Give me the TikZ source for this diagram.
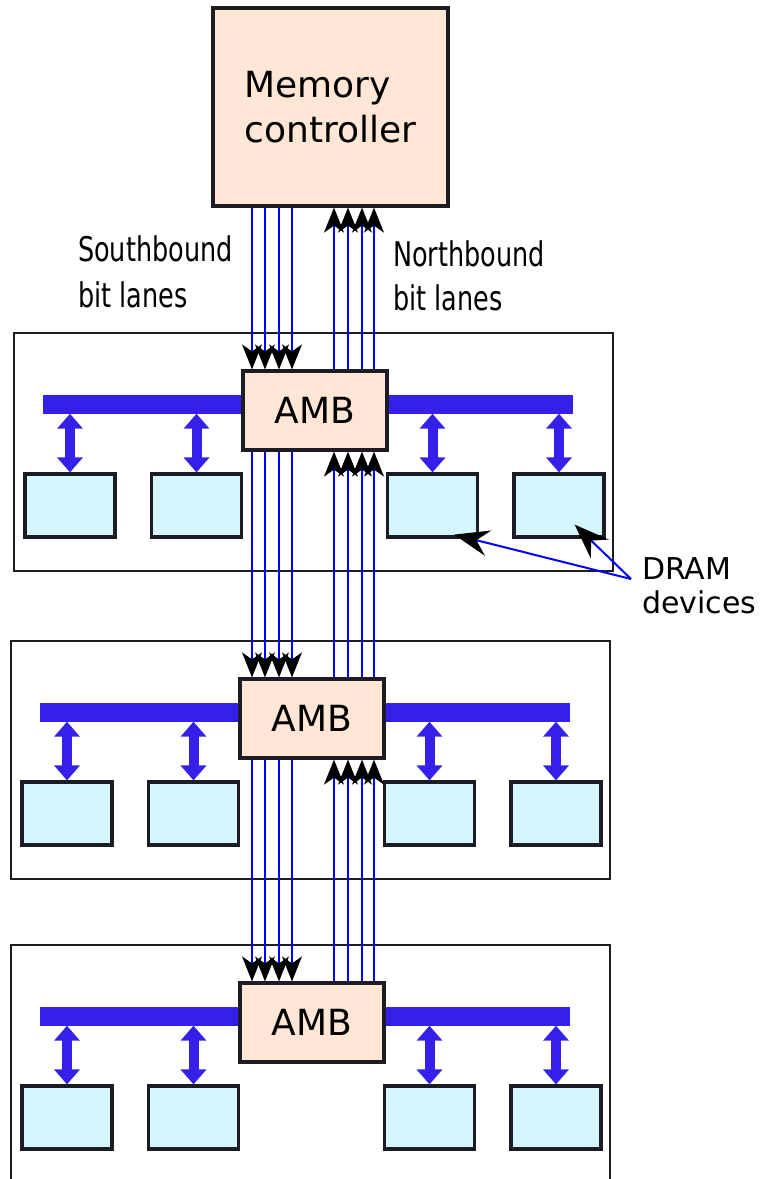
\documentclass[tikz,border=0pt]{standalone}
\usepackage{fontspec}
\setmainfont{DejaVu Sans}
\newfontfamily\narrowfont{DejaVu Sans}[FakeStretch=0.75]
\usetikzlibrary{positioning,arrows.meta,calc}
\definecolor{peach}{HTML}{FFE6D5}
\definecolor{chipblue}{HTML}{D5F6FF}
\definecolor{busblue}{HTML}{3420E8}
\definecolor{edge}{HTML}{1C1C24}

\begin{document}
\begin{tikzpicture}[x=1pt, y=-1pt,
    ctrl/.style={draw=edge, line width=3.2pt, fill=peach, inner sep=0pt},
    dram/.style={draw=edge, line width=3.2pt, fill=chipblue, minimum width=90pt, minimum height=63pt},
    bus/.style={fill=busblue, minimum width=530pt, minimum height=19pt, inner sep=0pt},
    buslink/.style={busblue, line width=10pt, {Triangle[length=15pt,width=25pt]}-{Triangle[length=15pt,width=25pt]}},
    lane/.style={blue, line width=1.2pt, -{Stealth[black,length=25pt,width=20pt,inset=7pt]}},
    pointer/.style={blue, line width=2pt, -{Stealth[black,length=35pt,width=26pt,inset=12pt]}},
    module/.style={draw=edge, line width=2.8pt},
    label/.style={align=left, anchor=west, inner sep=0pt}
]

% Page size
\useasboundingbox (0,0) rectangle (761,1179);
\clip (0,0) rectangle (761,1179);

% Memory controller
\node[ctrl, minimum width=235pt, minimum height=198pt, align=left,
      font=\fontsize{36}{45}\selectfont] (mc) at (330.5,107) {Memory\\controller};

% Memory modules: frame, bus, AMB and four DRAM devices
\foreach \m/\dx/\top in {1/3/333, 2/0/641, 3/0/945} {
    \begin{scope}[shift={(\dx,\top)}]
        \draw[module] (11,0) rectangle (610,238);
        \node[bus] (bus\m) at (305,71) {};
        \node[ctrl, minimum width=144pt, minimum height=79pt,
              font=\fontsize{36}{40}\selectfont] (amb\m) at (312,77.5) {AMB};
        \foreach \k/\x in {1/67, 2/193.5, 3/429.5, 4/556} {
            \node[dram] (d\m\k) at (\x,172.5) {};
            \draw[buslink] (d\m\k.north |- bus\m.south) -- (d\m\k.north);
        }
    \end{scope}
}

% Southbound bit lanes
\foreach \x in {252,265,279,292} {
    \draw[lane] (\x,0 |- mc.south) -- (\x,0 |- amb1.north);
    \draw[lane] (\x,0 |- amb1.south) -- (\x,0 |- amb2.north);
    \draw[lane] (\x,0 |- amb2.south) -- (\x,0 |- amb3.north);
}

% Northbound bit lanes
\foreach \x in {334,348,362,374} {
    \draw[lane] (\x,0 |- amb1.north) -- (\x,0 |- mc.south);
    \draw[lane] (\x,0 |- amb2.north) -- (\x,0 |- amb1.south);
    \draw[lane] (\x,0 |- amb3.north) -- (\x,0 |- amb2.south);
}

% Labels
\node[label, font={\fontsize{34}{46}\narrowfont}] (southlbl) at (78,272) {Southbound\\bit lanes};
\node[label, font={\fontsize{34}{44}\narrowfont}] (northlbl) at (393,276) {Northbound\\bit lanes};
\node[label, font=\fontsize{30}{34}\selectfont] (dramlbl) at (642,586) {DRAM\\devices};

% Pointers to the DRAM devices
\coordinate (fork) at ($(dramlbl.west)+(-11,-7)$);
\draw[pointer] (fork) -- ($(d13.south east)+(-25,-4)$);
\draw[pointer] (fork) -- ($(d14.south east)+(-31,-14)$);

\end{tikzpicture}
\end{document}
